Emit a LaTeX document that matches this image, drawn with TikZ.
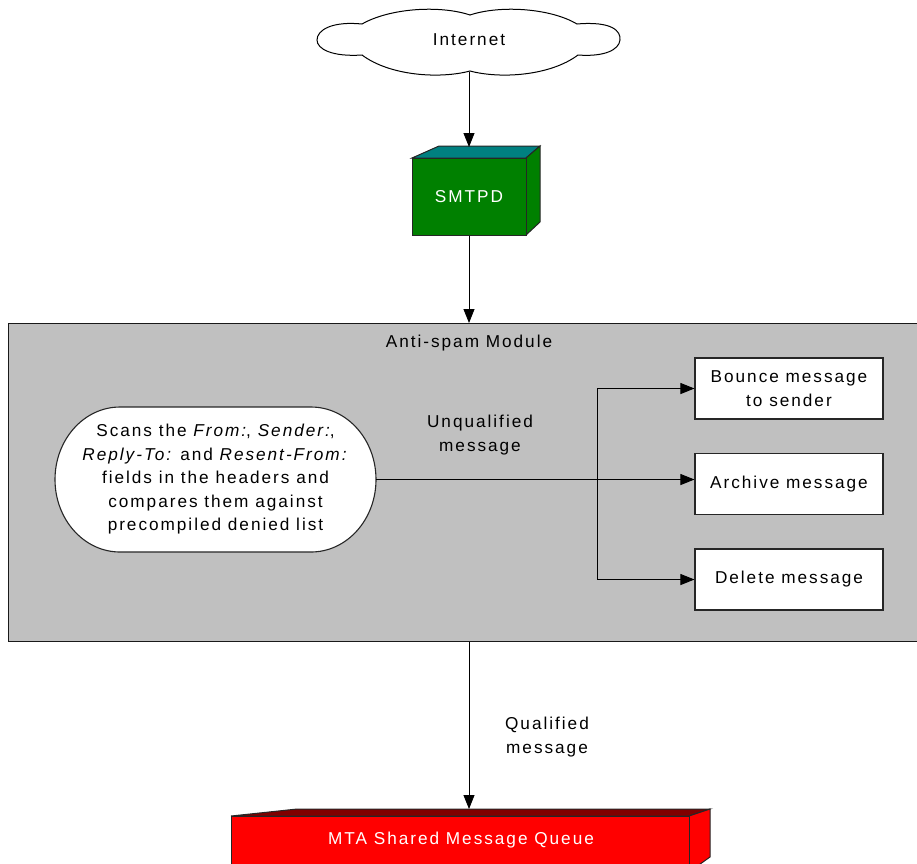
\documentclass[tikz,border=0pt]{standalone}
\usepackage{fontspec}
\setmainfont{Liberation Sans}[LetterSpace=11.5]
\usetikzlibrary{arrows.meta}
\definecolor{modgray}{HTML}{C0C0C0}
\definecolor{smgreen}{HTML}{008000}
\definecolor{smteal}{HTML}{008080}
\definecolor{qred}{HTML}{FF0000}
\definecolor{qdark}{HTML}{800000}
\begin{document}
\begin{tikzpicture}[x=1pt,y=-1pt,
  font=\fontsize{17.2}{23.5}\selectfont,
  arr/.style={line width=0.9pt,-{Triangle[length=14pt,width=11pt]}},
  conn/.style={line width=0.9pt},
  actbox/.style={draw=black!85,line width=1.1pt,fill=white,minimum width=188pt,minimum height=61pt,align=center,inner sep=0pt},
  lbl/.style={align=center,inner sep=0pt}]
\useasboundingbox (0,0) rectangle (917,863);
% cloud
\draw[line width=1pt,fill=white] (362,24) .. controls (390,8) and (440,5) .. (470,15)
  .. controls (500,5) and (550,8) .. (577,24)
  .. controls (612,21) and (621,31) .. (620,40)
  .. controls (619,50) and (604,57) .. (578,55)
  .. controls (550,76) and (500,79) .. (470,71)
  .. controls (440,79) and (390,76) .. (362,55)
  .. controls (332,57) and (317,49) .. (317,40)
  .. controls (317,30) and (332,21) .. (362,24) -- cycle;
\node[lbl] (inet) at (469,40) {Internet};
\coordinate (inetb) at (469,72);
% SMTPD box
\fill[smteal,draw=black!85,line width=1pt] (412,158) -- (439,146) -- (540,146) -- (526,158) -- cycle;
\fill[smgreen,draw=black!85,line width=1pt] (526,158) -- (540,146) -- (540,222) -- (526,235) -- cycle;
\node[draw=black!85,line width=1pt,fill=smgreen,minimum width=114pt,minimum height=77pt,inner sep=0pt,text=white] (smtpd) at (469,196.5) {SMTPD};
\coordinate (smtpdtop) at (469,147);
% module
\node[draw=black!90,line width=1.3pt,fill=modgray,minimum width=920pt,minimum height=318pt,inner sep=0pt,anchor=north west] (mod) at (8,323) {};
\node[lbl] (modlbl) at (469,343) {Anti-spam Module};
% scan shape
\draw[draw=black!85,line width=1.1pt,fill=white] (120,407) -- (311,407)
  arc[start angle=90,end angle=-90,x radius=65pt,y radius=72.5pt] -- (120,552)
  arc[start angle=270,end angle=90,x radius=65pt,y radius=72.5pt] -- cycle;
\node[lbl,minimum width=321pt,minimum height=145pt] (scan) at (215.5,479.5)
  {Scans the \textit{From:}, \textit{Sender:},\\ \textit{Reply-To:}\kern-2pt{} and \textit{Resent-From:}\\ fields in the headers and\\ compares them against\\ precompiled denied list};
% action boxes
\node[actbox] (bounce) at (789,388.5) {Bounce message\\ to sender};
\node[actbox] (archive) at (789,484) {Archive message};
\node[actbox] (delete) at (789,579.5) {Delete message};
\node[lbl] (unq) at (480,435) {Unqualified\\ message};
\coordinate (trt) at (597,388.5);
\coordinate (trb) at (597,579.5);
\draw[arr] (scan.east) -- (scan.east -| archive.west);
\draw[conn] (trt) -- (trb);
\draw[arr] (trt) -- (bounce.west);
\draw[arr] (trb) -- (delete.west);
% queue
\fill[qdark,draw=black!85,line width=1pt] (231,816) -- (297,809) -- (710,809) -- (689,816) -- cycle;
\fill[qred,draw=black!85,line width=1pt] (689,816) -- (710,809) -- (710,857) -- (689,872) -- cycle;
\node[draw=black!85,line width=1pt,fill=qred,minimum width=458pt,minimum height=56pt,inner sep=0pt,anchor=north west,text=white] (mta) at (231,816) {};
\node[lbl,text=white] (mtalbl) at (461,840) {MTA Shared Message Queue};
\coordinate (mtatop) at (469,809);
\node[lbl] (qual) at (547,737) {Qualified\\ message};
% main arrows
\draw[arr] (inetb) -- (smtpdtop);
\draw[arr] (smtpd.south) -- (smtpd.south |- mod.north);
\draw[arr] (mod.south -| smtpd.south) -- (mtatop);
\end{tikzpicture}
\end{document}
